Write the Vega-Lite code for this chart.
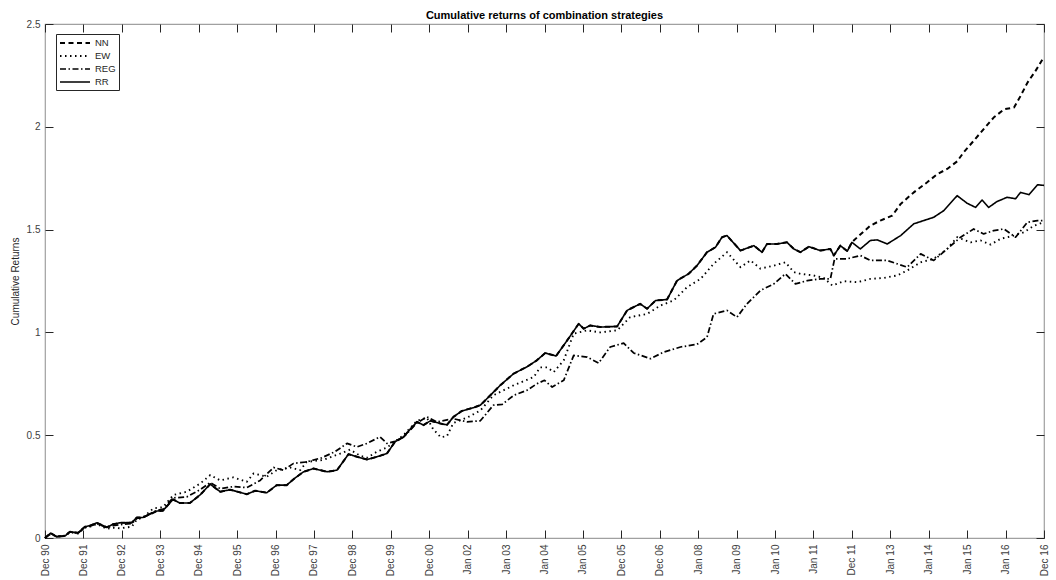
{
  "$schema": "https://vega.github.io/schema/vega-lite/v6.json",
  "width": 999,
  "height": 514,
  "autosize": {"type": "none"},
  "padding": {"left": 45, "top": 24, "right": 12, "bottom": 42},
  "background": "#ffffff",
  "title": {"text": "Cumulative returns of combination strategies", "fontSize": 11, "fontWeight": "bold", "font": "Liberation Sans", "color": "#000000", "anchor": "middle", "offset": -2},
  "config": {
    "font": "Liberation Sans",
    "view": {"stroke": "#a0a0a0", "strokeWidth": 1.2},
    "axis": {"grid": false, "domain": false, "tickColor": "#262626", "tickSize": -8, "labelColor": "#404040", "labelFontSize": 10, "labelFont": "Liberation Sans", "titleFont": "Liberation Sans", "titleFontWeight": "normal", "titleColor": "#262626", "titleFontSize": 10}
  },
  "data": {"values": [
    {"s":"NN","t":0,"v":0},{"s":"NN","t":0.15,"v":0.024},{"s":"NN","t":0.3,"v":0.006},{"s":"NN","t":0.52,"v":0.01},{"s":"NN","t":0.65,"v":0.03},{"s":"NN","t":0.86,"v":0.025},{"s":"NN","t":1.04,"v":0.055},{"s":"NN","t":1.17,"v":0.06},{"s":"NN","t":1.35,"v":0.074},{"s":"NN","t":1.61,"v":0.052},{"s":"NN","t":1.77,"v":0.067},{"s":"NN","t":1.95,"v":0.074},{"s":"NN","t":2.26,"v":0.075},{"s":"NN","t":2.39,"v":0.1},{"s":"NN","t":2.55,"v":0.1},{"s":"NN","t":2.91,"v":0.131},{"s":"NN","t":3.07,"v":0.133},{"s":"NN","t":3.33,"v":0.188},{"s":"NN","t":3.51,"v":0.17},{"s":"NN","t":3.77,"v":0.17},{"s":"NN","t":4.04,"v":0.21},{"s":"NN","t":4.3,"v":0.262},{"s":"NN","t":4.56,"v":0.225},{"s":"NN","t":4.82,"v":0.235},{"s":"NN","t":5.25,"v":0.213},{"s":"NN","t":5.47,"v":0.23},{"s":"NN","t":5.77,"v":0.22},{"s":"NN","t":6.03,"v":0.257},{"s":"NN","t":6.29,"v":0.257},{"s":"NN","t":6.51,"v":0.292},{"s":"NN","t":6.73,"v":0.322},{"s":"NN","t":6.99,"v":0.338},{"s":"NN","t":7.34,"v":0.322},{"s":"NN","t":7.6,"v":0.33},{"s":"NN","t":7.9,"v":0.408},{"s":"NN","t":8.12,"v":0.395},{"s":"NN","t":8.38,"v":0.382},{"s":"NN","t":8.64,"v":0.395},{"s":"NN","t":8.9,"v":0.411},{"s":"NN","t":9.11,"v":0.468},{"s":"NN","t":9.33,"v":0.492},{"s":"NN","t":9.68,"v":0.565},{"s":"NN","t":9.85,"v":0.549},{"s":"NN","t":10.03,"v":0.57},{"s":"NN","t":10.29,"v":0.557},{"s":"NN","t":10.46,"v":0.55},{"s":"NN","t":10.63,"v":0.589},{"s":"NN","t":10.85,"v":0.618},{"s":"NN","t":11.15,"v":0.634},{"s":"NN","t":11.33,"v":0.646},{"s":"NN","t":11.59,"v":0.694},{"s":"NN","t":11.85,"v":0.743},{"s":"NN","t":12.2,"v":0.8},{"s":"NN","t":12.54,"v":0.832},{"s":"NN","t":12.8,"v":0.864},{"s":"NN","t":13.02,"v":0.9},{"s":"NN","t":13.3,"v":0.885},{"s":"NN","t":13.59,"v":0.961},{"s":"NN","t":13.89,"v":1.042},{"s":"NN","t":14.02,"v":1.018},{"s":"NN","t":14.19,"v":1.034},{"s":"NN","t":14.45,"v":1.026},{"s":"NN","t":14.89,"v":1.029},{"s":"NN","t":15.15,"v":1.107},{"s":"NN","t":15.49,"v":1.139},{"s":"NN","t":15.67,"v":1.115},{"s":"NN","t":15.89,"v":1.155},{"s":"NN","t":16.19,"v":1.16},{"s":"NN","t":16.45,"v":1.252},{"s":"NN","t":16.75,"v":1.285},{"s":"NN","t":16.97,"v":1.325},{"s":"NN","t":17.23,"v":1.39},{"s":"NN","t":17.45,"v":1.414},{"s":"NN","t":17.62,"v":1.463},{"s":"NN","t":17.75,"v":1.471},{"s":"NN","t":18.1,"v":1.398},{"s":"NN","t":18.45,"v":1.422},{"s":"NN","t":18.66,"v":1.39},{"s":"NN","t":18.79,"v":1.43},{"s":"NN","t":19.05,"v":1.43},{"s":"NN","t":19.31,"v":1.438},{"s":"NN","t":19.49,"v":1.406},{"s":"NN","t":19.66,"v":1.39},{"s":"NN","t":19.88,"v":1.417},{"s":"NN","t":20.18,"v":1.398},{"s":"NN","t":20.44,"v":1.406},{"s":"NN","t":20.53,"v":1.374},{"s":"NN","t":20.7,"v":1.422},{"s":"NN","t":20.88,"v":1.395},{"s":"NN","t":21.0,"v":1.438},{"s":"NN","t":21.14,"v":1.463},{"s":"NN","t":21.48,"v":1.519},{"s":"NN","t":21.74,"v":1.544},{"s":"NN","t":22.05,"v":1.568},{"s":"NN","t":22.27,"v":1.625},{"s":"NN","t":22.61,"v":1.681},{"s":"NN","t":22.96,"v":1.73},{"s":"NN","t":23.22,"v":1.77},{"s":"NN","t":23.48,"v":1.795},{"s":"NN","t":23.74,"v":1.832},{"s":"NN","t":23.91,"v":1.876},{"s":"NN","t":24.17,"v":1.932},{"s":"NN","t":24.43,"v":1.989},{"s":"NN","t":24.69,"v":2.045},{"s":"NN","t":24.96,"v":2.085},{"s":"NN","t":25.22,"v":2.094},{"s":"NN","t":25.39,"v":2.15},{"s":"NN","t":25.57,"v":2.215},{"s":"NN","t":25.78,"v":2.272},{"s":"NN","t":26.0,"v":2.34},
    {"s":"EW","t":0,"v":0},{"s":"EW","t":0.15,"v":0.02},{"s":"EW","t":0.3,"v":0.008},{"s":"EW","t":0.52,"v":0.01},{"s":"EW","t":0.65,"v":0.028},{"s":"EW","t":0.86,"v":0.022},{"s":"EW","t":1.04,"v":0.05},{"s":"EW","t":1.17,"v":0.055},{"s":"EW","t":1.35,"v":0.068},{"s":"EW","t":1.61,"v":0.045},{"s":"EW","t":1.77,"v":0.05},{"s":"EW","t":1.95,"v":0.047},{"s":"EW","t":2.26,"v":0.055},{"s":"EW","t":2.39,"v":0.09},{"s":"EW","t":2.55,"v":0.1},{"s":"EW","t":2.82,"v":0.144},{"s":"EW","t":3.07,"v":0.15},{"s":"EW","t":3.34,"v":0.209},{"s":"EW","t":3.69,"v":0.225},{"s":"EW","t":4.04,"v":0.265},{"s":"EW","t":4.3,"v":0.306},{"s":"EW","t":4.56,"v":0.28},{"s":"EW","t":4.9,"v":0.295},{"s":"EW","t":5.25,"v":0.273},{"s":"EW","t":5.43,"v":0.314},{"s":"EW","t":5.77,"v":0.298},{"s":"EW","t":6.03,"v":0.33},{"s":"EW","t":6.38,"v":0.343},{"s":"EW","t":6.64,"v":0.33},{"s":"EW","t":6.81,"v":0.37},{"s":"EW","t":7.25,"v":0.38},{"s":"EW","t":7.68,"v":0.41},{"s":"EW","t":7.94,"v":0.43},{"s":"EW","t":8.2,"v":0.4},{"s":"EW","t":8.38,"v":0.39},{"s":"EW","t":8.64,"v":0.42},{"s":"EW","t":8.9,"v":0.44},{"s":"EW","t":9.11,"v":0.47},{"s":"EW","t":9.33,"v":0.5},{"s":"EW","t":9.68,"v":0.57},{"s":"EW","t":9.94,"v":0.585},{"s":"EW","t":10.1,"v":0.53},{"s":"EW","t":10.3,"v":0.49},{"s":"EW","t":10.46,"v":0.495},{"s":"EW","t":10.63,"v":0.56},{"s":"EW","t":10.98,"v":0.585},{"s":"EW","t":11.33,"v":0.62},{"s":"EW","t":11.67,"v":0.694},{"s":"EW","t":12.2,"v":0.743},{"s":"EW","t":12.72,"v":0.783},{"s":"EW","t":12.89,"v":0.83},{"s":"EW","t":13.07,"v":0.83},{"s":"EW","t":13.24,"v":0.807},{"s":"EW","t":13.5,"v":0.864},{"s":"EW","t":13.76,"v":0.994},{"s":"EW","t":14.11,"v":1.01},{"s":"EW","t":14.45,"v":1.0},{"s":"EW","t":14.89,"v":1.01},{"s":"EW","t":15.23,"v":1.074},{"s":"EW","t":15.67,"v":1.09},{"s":"EW","t":16.02,"v":1.131},{"s":"EW","t":16.36,"v":1.155},{"s":"EW","t":16.71,"v":1.22},{"s":"EW","t":17.06,"v":1.26},{"s":"EW","t":17.4,"v":1.333},{"s":"EW","t":17.75,"v":1.39},{"s":"EW","t":18.1,"v":1.317},{"s":"EW","t":18.36,"v":1.35},{"s":"EW","t":18.62,"v":1.31},{"s":"EW","t":18.97,"v":1.325},{"s":"EW","t":19.27,"v":1.341},{"s":"EW","t":19.49,"v":1.293},{"s":"EW","t":19.66,"v":1.285},{"s":"EW","t":20.0,"v":1.277},{"s":"EW","t":20.27,"v":1.265},{"s":"EW","t":20.49,"v":1.228},{"s":"EW","t":20.79,"v":1.249},{"s":"EW","t":21.14,"v":1.244},{"s":"EW","t":21.48,"v":1.26},{"s":"EW","t":21.83,"v":1.265},{"s":"EW","t":22.18,"v":1.277},{"s":"EW","t":22.44,"v":1.301},{"s":"EW","t":22.79,"v":1.341},{"s":"EW","t":23.13,"v":1.358},{"s":"EW","t":23.48,"v":1.406},{"s":"EW","t":23.74,"v":1.463},{"s":"EW","t":24.09,"v":1.438},{"s":"EW","t":24.35,"v":1.447},{"s":"EW","t":24.61,"v":1.427},{"s":"EW","t":24.87,"v":1.455},{"s":"EW","t":25.22,"v":1.471},{"s":"EW","t":25.48,"v":1.487},{"s":"EW","t":25.74,"v":1.519},{"s":"EW","t":26.0,"v":1.536},
    {"s":"REG","t":0,"v":0},{"s":"REG","t":0.15,"v":0.022},{"s":"REG","t":0.3,"v":0.007},{"s":"REG","t":0.52,"v":0.012},{"s":"REG","t":0.65,"v":0.03},{"s":"REG","t":0.86,"v":0.024},{"s":"REG","t":1.04,"v":0.052},{"s":"REG","t":1.17,"v":0.058},{"s":"REG","t":1.35,"v":0.07},{"s":"REG","t":1.61,"v":0.05},{"s":"REG","t":1.77,"v":0.06},{"s":"REG","t":1.95,"v":0.065},{"s":"REG","t":2.26,"v":0.07},{"s":"REG","t":2.39,"v":0.095},{"s":"REG","t":2.55,"v":0.1},{"s":"REG","t":2.91,"v":0.135},{"s":"REG","t":3.07,"v":0.14},{"s":"REG","t":3.33,"v":0.195},{"s":"REG","t":3.69,"v":0.2},{"s":"REG","t":4.04,"v":0.235},{"s":"REG","t":4.3,"v":0.27},{"s":"REG","t":4.56,"v":0.24},{"s":"REG","t":4.9,"v":0.25},{"s":"REG","t":5.25,"v":0.245},{"s":"REG","t":5.6,"v":0.28},{"s":"REG","t":5.95,"v":0.343},{"s":"REG","t":6.2,"v":0.33},{"s":"REG","t":6.47,"v":0.363},{"s":"REG","t":6.81,"v":0.37},{"s":"REG","t":7.2,"v":0.39},{"s":"REG","t":7.55,"v":0.42},{"s":"REG","t":7.86,"v":0.46},{"s":"REG","t":8.12,"v":0.443},{"s":"REG","t":8.38,"v":0.46},{"s":"REG","t":8.72,"v":0.492},{"s":"REG","t":8.9,"v":0.46},{"s":"REG","t":9.11,"v":0.47},{"s":"REG","t":9.33,"v":0.49},{"s":"REG","t":9.68,"v":0.56},{"s":"REG","t":9.94,"v":0.589},{"s":"REG","t":10.2,"v":0.565},{"s":"REG","t":10.63,"v":0.58},{"s":"REG","t":10.98,"v":0.565},{"s":"REG","t":11.33,"v":0.57},{"s":"REG","t":11.67,"v":0.646},{"s":"REG","t":11.9,"v":0.65},{"s":"REG","t":12.2,"v":0.694},{"s":"REG","t":12.54,"v":0.718},{"s":"REG","t":12.8,"v":0.75},{"s":"REG","t":13.0,"v":0.767},{"s":"REG","t":13.2,"v":0.734},{"s":"REG","t":13.5,"v":0.767},{"s":"REG","t":13.76,"v":0.888},{"s":"REG","t":14.11,"v":0.88},{"s":"REG","t":14.41,"v":0.851},{"s":"REG","t":14.71,"v":0.929},{"s":"REG","t":15.06,"v":0.948},{"s":"REG","t":15.32,"v":0.9},{"s":"REG","t":15.76,"v":0.872},{"s":"REG","t":16.1,"v":0.904},{"s":"REG","t":16.54,"v":0.929},{"s":"REG","t":16.97,"v":0.942},{"s":"REG","t":17.23,"v":0.977},{"s":"REG","t":17.4,"v":1.09},{"s":"REG","t":17.75,"v":1.107},{"s":"REG","t":18.01,"v":1.074},{"s":"REG","t":18.27,"v":1.139},{"s":"REG","t":18.62,"v":1.204},{"s":"REG","t":18.97,"v":1.236},{"s":"REG","t":19.27,"v":1.285},{"s":"REG","t":19.53,"v":1.236},{"s":"REG","t":19.84,"v":1.252},{"s":"REG","t":20.18,"v":1.26},{"s":"REG","t":20.44,"v":1.26},{"s":"REG","t":20.55,"v":1.358},{"s":"REG","t":20.88,"v":1.358},{"s":"REG","t":21.22,"v":1.374},{"s":"REG","t":21.48,"v":1.35},{"s":"REG","t":21.92,"v":1.35},{"s":"REG","t":22.44,"v":1.317},{"s":"REG","t":22.79,"v":1.382},{"s":"REG","t":23.13,"v":1.35},{"s":"REG","t":23.48,"v":1.406},{"s":"REG","t":23.83,"v":1.463},{"s":"REG","t":24.17,"v":1.503},{"s":"REG","t":24.43,"v":1.479},{"s":"REG","t":24.69,"v":1.495},{"s":"REG","t":24.96,"v":1.503},{"s":"REG","t":25.26,"v":1.463},{"s":"REG","t":25.57,"v":1.536},{"s":"REG","t":25.83,"v":1.544},{"s":"REG","t":26.0,"v":1.544},
    {"s":"RR","t":0,"v":0},{"s":"RR","t":0.15,"v":0.024},{"s":"RR","t":0.3,"v":0.006},{"s":"RR","t":0.52,"v":0.01},{"s":"RR","t":0.65,"v":0.03},{"s":"RR","t":0.86,"v":0.025},{"s":"RR","t":1.04,"v":0.055},{"s":"RR","t":1.17,"v":0.06},{"s":"RR","t":1.35,"v":0.074},{"s":"RR","t":1.61,"v":0.052},{"s":"RR","t":1.77,"v":0.067},{"s":"RR","t":1.95,"v":0.074},{"s":"RR","t":2.26,"v":0.075},{"s":"RR","t":2.39,"v":0.1},{"s":"RR","t":2.55,"v":0.1},{"s":"RR","t":2.91,"v":0.131},{"s":"RR","t":3.07,"v":0.133},{"s":"RR","t":3.33,"v":0.188},{"s":"RR","t":3.51,"v":0.17},{"s":"RR","t":3.77,"v":0.17},{"s":"RR","t":4.04,"v":0.21},{"s":"RR","t":4.3,"v":0.262},{"s":"RR","t":4.56,"v":0.225},{"s":"RR","t":4.82,"v":0.235},{"s":"RR","t":5.25,"v":0.213},{"s":"RR","t":5.47,"v":0.23},{"s":"RR","t":5.77,"v":0.22},{"s":"RR","t":6.03,"v":0.257},{"s":"RR","t":6.29,"v":0.257},{"s":"RR","t":6.51,"v":0.292},{"s":"RR","t":6.73,"v":0.322},{"s":"RR","t":6.99,"v":0.338},{"s":"RR","t":7.34,"v":0.322},{"s":"RR","t":7.6,"v":0.33},{"s":"RR","t":7.9,"v":0.408},{"s":"RR","t":8.12,"v":0.395},{"s":"RR","t":8.38,"v":0.382},{"s":"RR","t":8.64,"v":0.395},{"s":"RR","t":8.9,"v":0.411},{"s":"RR","t":9.11,"v":0.468},{"s":"RR","t":9.33,"v":0.492},{"s":"RR","t":9.68,"v":0.565},{"s":"RR","t":9.85,"v":0.549},{"s":"RR","t":10.03,"v":0.57},{"s":"RR","t":10.29,"v":0.557},{"s":"RR","t":10.46,"v":0.55},{"s":"RR","t":10.63,"v":0.589},{"s":"RR","t":10.85,"v":0.618},{"s":"RR","t":11.15,"v":0.634},{"s":"RR","t":11.33,"v":0.646},{"s":"RR","t":11.59,"v":0.694},{"s":"RR","t":11.85,"v":0.743},{"s":"RR","t":12.2,"v":0.8},{"s":"RR","t":12.54,"v":0.832},{"s":"RR","t":12.8,"v":0.864},{"s":"RR","t":13.02,"v":0.9},{"s":"RR","t":13.3,"v":0.885},{"s":"RR","t":13.59,"v":0.961},{"s":"RR","t":13.89,"v":1.042},{"s":"RR","t":14.02,"v":1.018},{"s":"RR","t":14.19,"v":1.034},{"s":"RR","t":14.45,"v":1.026},{"s":"RR","t":14.89,"v":1.029},{"s":"RR","t":15.15,"v":1.107},{"s":"RR","t":15.49,"v":1.139},{"s":"RR","t":15.67,"v":1.115},{"s":"RR","t":15.89,"v":1.155},{"s":"RR","t":16.19,"v":1.16},{"s":"RR","t":16.45,"v":1.252},{"s":"RR","t":16.75,"v":1.285},{"s":"RR","t":16.97,"v":1.325},{"s":"RR","t":17.23,"v":1.39},{"s":"RR","t":17.45,"v":1.414},{"s":"RR","t":17.62,"v":1.463},{"s":"RR","t":17.75,"v":1.471},{"s":"RR","t":18.1,"v":1.398},{"s":"RR","t":18.45,"v":1.422},{"s":"RR","t":18.66,"v":1.39},{"s":"RR","t":18.79,"v":1.43},{"s":"RR","t":19.05,"v":1.43},{"s":"RR","t":19.31,"v":1.438},{"s":"RR","t":19.49,"v":1.406},{"s":"RR","t":19.66,"v":1.39},{"s":"RR","t":19.88,"v":1.417},{"s":"RR","t":20.18,"v":1.398},{"s":"RR","t":20.44,"v":1.406},{"s":"RR","t":20.53,"v":1.374},{"s":"RR","t":20.7,"v":1.422},{"s":"RR","t":20.88,"v":1.395},{"s":"RR","t":21.0,"v":1.438},{"s":"RR","t":21.22,"v":1.406},{"s":"RR","t":21.48,"v":1.447},{"s":"RR","t":21.66,"v":1.45},{"s":"RR","t":21.92,"v":1.43},{"s":"RR","t":22.27,"v":1.471},{"s":"RR","t":22.61,"v":1.528},{"s":"RR","t":22.87,"v":1.544},{"s":"RR","t":23.13,"v":1.56},{"s":"RR","t":23.39,"v":1.592},{"s":"RR","t":23.74,"v":1.665},{"s":"RR","t":24.0,"v":1.628},{"s":"RR","t":24.22,"v":1.608},{"s":"RR","t":24.39,"v":1.644},{"s":"RR","t":24.56,"v":1.608},{"s":"RR","t":24.78,"v":1.637},{"s":"RR","t":25.04,"v":1.657},{"s":"RR","t":25.26,"v":1.65},{"s":"RR","t":25.39,"v":1.681},{"s":"RR","t":25.61,"v":1.67},{"s":"RR","t":25.83,"v":1.718},{"s":"RR","t":26.0,"v":1.715}
  ]},
  "layer": [
    {
      "mark": {"type": "line", "color": "#000000", "strokeJoin": "round"},
      "encoding": {
        "x": {"field": "t", "type": "quantitative", "scale": {"domain": [0, 26], "nice": false, "zero": false},
          "axis": {"orient": "bottom", "title": null, "values": [0,1,2,3,4,5,6,7,8,9,10,11,12,13,14,15,16,17,18,19,20,21,22,23,24,25,26], "labelAngle": -90, "labelPadding": 14, "labelExpr": "['Dec 90','Dec 91','Dec 92','Dec 93','Dec 94','Dec 95','Dec 96','Dec 97','Dec 98','Dec 99','Dec 00','Jan 02','Jan 03','Jan 04','Jan 05','Dec 05','Dec 06','Jan 08','Jan 09','Jan 10','Jan 11','Dec 11','Jan 13','Jan 14','Jan 15','Jan 16','Dec 16'][datum.value]"}},
        "y": {"field": "v", "type": "quantitative", "scale": {"domain": [0, 2.5], "nice": false, "zero": true},
          "axis": {"orient": "left", "title": "Cumulative Returns", "values": [0, 0.5, 1, 1.5, 2, 2.5], "format": "~g", "labelPadding": 13, "titlePadding": 6}},
        "strokeDash": {"field": "s", "type": "nominal", "scale": {"domain": ["NN", "EW", "REG", "RR"], "range": [[5, 3.5], [1.5, 3.5], [6, 2.5, 1.5, 2.5], [1, 0]]},
          "legend": {"title": null, "orient": "none", "legendX": 11, "legendY": 10, "symbolType": "M-3,0H3", "symbolSize": 100, "symbolOffset": 10, "symbolStrokeColor": "#000000", "labelFontSize": 9.5, "labelColor": "#262626", "strokeColor": "#262626", "fillColor": "#ffffff", "padding": 3, "rowPadding": 2, "labelOffset": 14}},
        "strokeWidth": {"field": "s", "type": "nominal", "scale": {"domain": ["NN", "EW", "REG", "RR"], "range": [2, 1.6, 2, 3]},
          "legend": {"title": null, "orient": "none", "legendX": 11, "legendY": 10, "symbolType": "M-3,0H3", "symbolSize": 100, "symbolOffset": 10, "symbolStrokeColor": "#000000", "labelFontSize": 9.5, "labelColor": "#262626", "strokeColor": "#262626", "fillColor": "#ffffff", "padding": 3, "rowPadding": 2, "labelOffset": 14}}
      }
    },
    {
      "mark": {"type": "line", "opacity": 0},
      "encoding": {
        "x": {"field": "t", "type": "quantitative", "axis": {"orient": "top", "title": null, "labels": false, "values": [0,1,2,3,4,5,6,7,8,9,10,11,12,13,14,15,16,17,18,19,20,21,22,23,24,25,26]}},
        "y": {"field": "v", "type": "quantitative", "axis": {"orient": "right", "title": null, "labels": false, "values": [0, 0.5, 1, 1.5, 2, 2.5]}},
        "detail": {"field": "s", "type": "nominal"}
      }
    }
  ]
}
